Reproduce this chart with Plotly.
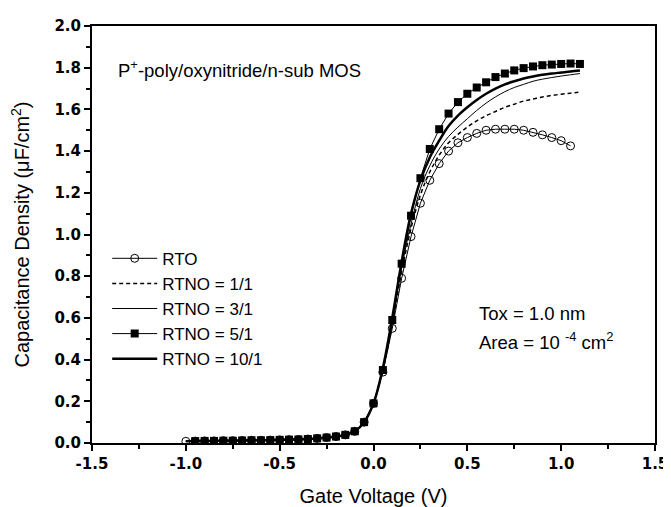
import plotly.graph_objects as go

# Gate voltage grids (V)
v_rto = [-1.0, -0.95, -0.9, -0.85, -0.8, -0.75, -0.7, -0.65, -0.6, -0.55, -0.5, -0.45, -0.4, -0.35, -0.3,
         -0.25, -0.2, -0.15, -0.1, -0.05, 0.0, 0.05, 0.1, 0.15, 0.2, 0.25, 0.3, 0.35, 0.4, 0.45, 0.5,
         0.55, 0.6, 0.65, 0.7, 0.75, 0.8, 0.85, 0.9, 0.95, 1.0, 1.05]
v_full = [-1.0, -0.95, -0.9, -0.85, -0.8, -0.75, -0.7, -0.65, -0.6, -0.55, -0.5, -0.45, -0.4, -0.35, -0.3,
          -0.25, -0.2, -0.15, -0.1, -0.05, 0.0, 0.05, 0.1, 0.15, 0.2, 0.25, 0.3, 0.35, 0.4, 0.45, 0.5,
          0.55, 0.6, 0.65, 0.7, 0.75, 0.8, 0.85, 0.9, 0.95, 1.0, 1.05, 1.1]
v_sq = [-0.95, -0.9, -0.85, -0.8, -0.75, -0.7, -0.65, -0.6, -0.55, -0.5, -0.45, -0.4, -0.35, -0.3,
        -0.25, -0.2, -0.15, -0.1, -0.05, 0.0, 0.05, 0.1, 0.15, 0.2, 0.25, 0.3, 0.35, 0.4, 0.45, 0.5,
        0.55, 0.6, 0.65, 0.7, 0.75, 0.8, 0.85, 0.9, 0.95, 1.0, 1.05, 1.1]

# Capacitance density (uF/cm^2)
c_rto = [0.008, 0.009, 0.010, 0.010, 0.011, 0.011, 0.012, 0.013, 0.013, 0.014, 0.015, 0.016, 0.017, 0.019, 0.022,
         0.026, 0.031, 0.039, 0.056, 0.10, 0.19, 0.34, 0.55, 0.79, 0.99, 1.15, 1.26, 1.34, 1.40, 1.44, 1.465,
         1.485, 1.50, 1.505, 1.505, 1.505, 1.50, 1.49, 1.478, 1.465, 1.45, 1.425]
c_11 = [0.008, 0.009, 0.010, 0.010, 0.011, 0.011, 0.012, 0.013, 0.013, 0.014, 0.015, 0.016, 0.017, 0.019, 0.022,
        0.026, 0.031, 0.039, 0.056, 0.10, 0.19, 0.35, 0.57, 0.82, 1.03, 1.19, 1.30, 1.38, 1.44, 1.48, 1.515,
        1.545, 1.57, 1.59, 1.61, 1.625, 1.64, 1.65, 1.66, 1.667, 1.673, 1.678, 1.683]
c_31 = [0.008, 0.009, 0.010, 0.010, 0.011, 0.011, 0.012, 0.013, 0.013, 0.014, 0.015, 0.016, 0.017, 0.019, 0.022,
        0.026, 0.031, 0.039, 0.056, 0.10, 0.19, 0.35, 0.58, 0.84, 1.05, 1.22, 1.33, 1.41, 1.47, 1.515, 1.555,
        1.595, 1.63, 1.66, 1.685, 1.705, 1.72, 1.735, 1.745, 1.753, 1.76, 1.766, 1.772]
c_51 = [0.009, 0.010, 0.010, 0.011, 0.011, 0.012, 0.013, 0.013, 0.014, 0.015, 0.016, 0.017, 0.019, 0.022,
        0.026, 0.031, 0.039, 0.056, 0.10, 0.19, 0.35, 0.59, 0.86, 1.09, 1.27, 1.41, 1.505, 1.58, 1.635, 1.675,
        1.705, 1.73, 1.755, 1.772, 1.787, 1.798, 1.806, 1.812, 1.815, 1.818, 1.82, 1.818]
c_101 = [0.008, 0.009, 0.010, 0.010, 0.011, 0.011, 0.012, 0.013, 0.013, 0.014, 0.015, 0.016, 0.017, 0.019, 0.022,
         0.026, 0.031, 0.039, 0.056, 0.10, 0.19, 0.36, 0.60, 0.87, 1.10, 1.26, 1.37, 1.45, 1.52, 1.57, 1.61,
         1.645, 1.675, 1.70, 1.72, 1.735, 1.748, 1.758, 1.766, 1.772, 1.777, 1.782, 1.786]

names = ["RTO", "RTNO = 1/1", "RTNO = 3/1", "RTNO = 5/1", "RTNO = 10/1"]
x_ticks = [-1.5, -1.0, -0.5, 0.0, 0.5, 1.0, 1.5]
y_ticks = [0.0, 0.2, 0.4, 0.6, 0.8, 1.0, 1.2, 1.4, 1.6, 1.8, 2.0]

FONT = "Liberation Sans, Arial, sans-serif"
BOLD_FONT = "DejaVu Sans"

fig = go.Figure()
fig.add_trace(go.Scatter(x=v_rto, y=c_rto, name=names[0], mode="lines+markers",
                         line=dict(color="black", width=1),
                         marker=dict(symbol="circle-open", size=8, color="black", line=dict(width=1))))
fig.add_trace(go.Scatter(x=v_full, y=c_11, name=names[1], mode="lines",
                         line=dict(color="black", width=1.5, dash="4px,3px", shape="spline")))
fig.add_trace(go.Scatter(x=v_full, y=c_31, name=names[2], mode="lines",
                         line=dict(color="black", width=1, shape="spline")))
fig.add_trace(go.Scatter(x=v_sq, y=c_51, name=names[3], mode="lines+markers",
                         line=dict(color="black", width=1),
                         marker=dict(symbol="square", size=8, color="black")))
fig.add_trace(go.Scatter(x=v_full, y=c_101, name=names[4], mode="lines",
                         line=dict(color="black", width=2.5, shape="spline")))

axis_common = dict(showline=True, linecolor="black", linewidth=2, mirror=True,
                   ticks="outside", ticklen=6, tickwidth=2, tickcolor="black",
                   showgrid=False, zeroline=False,
                   tickfont=dict(family=BOLD_FONT, size=15, color="black", weight=700))

fig.update_xaxes(range=[-1.5, 1.5], tickvals=x_ticks, ticktext=[f"{t:.1f}" for t in x_ticks],
                 minor=dict(dtick=0.25, ticks="outside", ticklen=4, tickwidth=2, tickcolor="black"),
                 title=dict(text="Gate Voltage (V)", font=dict(family=FONT, size=20, color="black"), standoff=17),
                 **axis_common)
fig.update_yaxes(range=[0, 2.0], tickvals=y_ticks, ticktext=[f"{t:.1f}" for t in y_ticks],
                 minor=dict(dtick=0.1, ticks="outside", ticklen=4, tickwidth=2, tickcolor="black"),
                 title=dict(text="Capacitance Density (\u03bcF/cm<sup>2</sup>)",
                            font=dict(family=FONT, size=20, color="black"), standoff=20),
                 **axis_common)

fig.add_annotation(x=0.042, y=0.898, xref="paper", yref="paper", xanchor="left", yanchor="middle",
                   text="P<sup>+</sup>-poly/oxynitride/n-sub MOS", showarrow=False,
                   font=dict(family=FONT, size=18.5, color="black"))
fig.add_annotation(x=0.683, y=0.31, xref="paper", yref="paper", xanchor="left", yanchor="middle",
                   text="Tox = 1.0 nm", showarrow=False,
                   font=dict(family=FONT, size=18.5, color="black"))
fig.add_annotation(x=0.683, y=0.245, xref="paper", yref="paper", xanchor="left", yanchor="middle",
                   text="Area = 10 <sup>-4</sup> cm<sup>2</sup>", showarrow=False,
                   font=dict(family=FONT, size=18.5, color="black"))

fig.update_layout(
    width=671, height=507,
    margin=dict(l=84, r=24, t=9, b=72),
    paper_bgcolor="white", plot_bgcolor="white",
    font=dict(family=FONT, color="black"),
    showlegend=True,
    legend=dict(x=0.027, y=0.485, xanchor="left", yanchor="top", bgcolor="rgba(0,0,0,0)",
                font=dict(family=FONT, size=17, color="black"), tracegroupgap=0, itemwidth=45),
)

fig.write_html("out.html")
